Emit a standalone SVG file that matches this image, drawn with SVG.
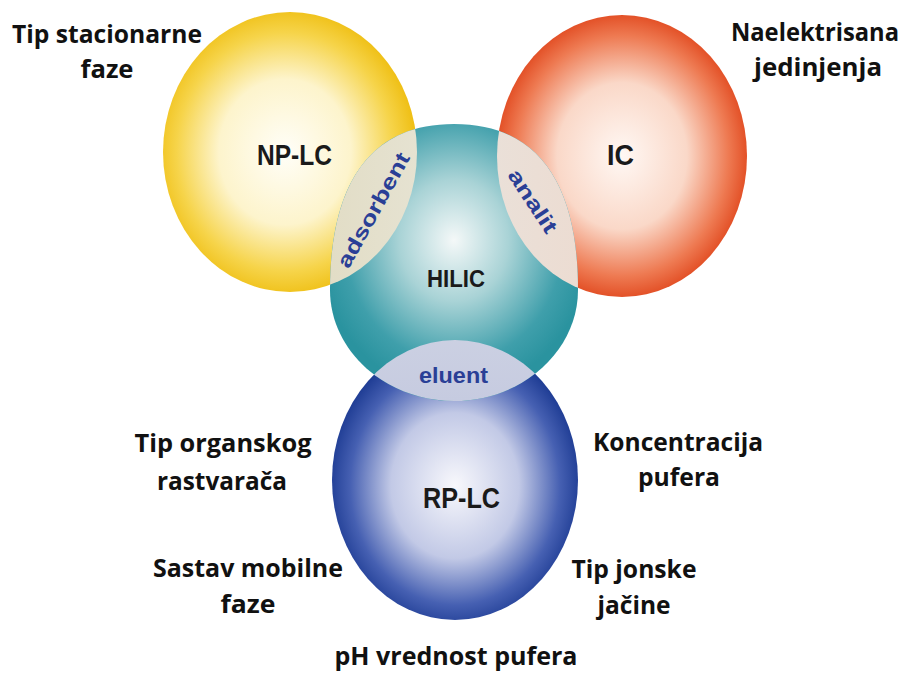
<svg xmlns="http://www.w3.org/2000/svg" width="906" height="682" viewBox="0 0 906 682">
<style>
.out{font-family:"Open Sans","Liberation Sans",sans-serif;font-weight:bold;font-size:25px;fill:#111;text-anchor:middle}
.main{font-family:"Liberation Sans",Arial,sans-serif;font-weight:bold;fill:#1a1a1a;text-anchor:middle}
.ov{font-family:"Liberation Sans",Arial,sans-serif;font-weight:bold;fill:#2a3f96;text-anchor:middle}
</style>
<defs>
<radialGradient id="gY" cx="0.48" cy="0.5" r="0.52">
<stop offset="0" stop-color="#fffef8"/><stop offset="0.5" stop-color="#fdf4cc"/><stop offset="0.82" stop-color="#f6d44a"/><stop offset="1" stop-color="#efbf14"/>
</radialGradient>
<radialGradient id="gR" cx="0.5" cy="0.5" r="0.52">
<stop offset="0" stop-color="#fff8f4"/><stop offset="0.5" stop-color="#fad8c8"/><stop offset="0.82" stop-color="#ee7a52"/><stop offset="1" stop-color="#e0461c"/>
</radialGradient>
<radialGradient id="gT" cx="0.5" cy="0.42" r="0.55">
<stop offset="0" stop-color="#f4f8f8"/><stop offset="0.4" stop-color="#a9d3d6"/><stop offset="0.8" stop-color="#3f9fab"/><stop offset="1" stop-color="#2a939f"/>
</radialGradient>
<radialGradient id="gB" cx="0.5" cy="0.52" r="0.52">
<stop offset="0" stop-color="#f8f8fc"/><stop offset="0.5" stop-color="#c2c9e6"/><stop offset="0.82" stop-color="#4660b2"/><stop offset="1" stop-color="#1c3a92"/>
</radialGradient>
<linearGradient id="lY" x1="0" y1="0" x2="1" y2="0">
<stop offset="0" stop-color="#e2ddc6"/><stop offset="1" stop-color="#ececE6"/>
</linearGradient>
<linearGradient id="lR" x1="0" y1="0" x2="1" y2="0">
<stop offset="0" stop-color="#e6e8e4"/><stop offset="1" stop-color="#ecdcd2"/>
</linearGradient>
<linearGradient id="lB" x1="0" y1="0" x2="0" y2="1">
<stop offset="0" stop-color="#dfe1ea"/><stop offset="1" stop-color="#c6cbe0"/>
</linearGradient>
<clipPath id="cY"><ellipse cx="290" cy="152" rx="127" ry="140"/></clipPath>
<clipPath id="cR"><ellipse cx="622" cy="156" rx="125" ry="141"/></clipPath>
<clipPath id="cB"><ellipse cx="455" cy="480" rx="123" ry="140"/></clipPath>
<path id="teal" d="M330,290 C330,195 362,124 454,124 C546,124 578,195 578,290 C578,351 522,401 454,401 C386,401 330,351 330,290 Z"/>
</defs>
<rect width="906" height="682" fill="#fff"/>
<g id="node-np-lc">
<ellipse cx="290" cy="152" rx="127" ry="140" fill="url(#gY)"/>
<text class="main" x="294.5" y="165" font-size="29" textLength="75" lengthAdjust="spacingAndGlyphs">NP-LC</text>
</g>
<g id="node-ic">
<ellipse cx="622" cy="156" rx="125" ry="141" fill="url(#gR)"/>
<text class="main" x="620.5" y="165" font-size="29" textLength="27" lengthAdjust="spacingAndGlyphs">IC</text>
</g>
<g id="node-rp-lc">
<ellipse cx="455" cy="480" rx="123" ry="140" fill="url(#gB)"/>
<text class="main" x="461.5" y="508" font-size="29" textLength="77" lengthAdjust="spacingAndGlyphs">RP-LC</text>
</g>
<g id="node-hilic">
<use href="#teal" fill="url(#gT)"/>
<text class="main" x="456" y="287" font-size="23" textLength="58" lengthAdjust="spacingAndGlyphs">HILIC</text>
</g>
<g id="overlaps">
<use href="#teal" clip-path="url(#cY)" fill="url(#lY)"/>
<use href="#teal" clip-path="url(#cR)" fill="url(#lR)"/>
<use href="#teal" clip-path="url(#cB)" fill="url(#lB)"/>
<text class="ov" x="373" y="210" font-size="21" dominant-baseline="central" textLength="128" lengthAdjust="spacingAndGlyphs" transform="rotate(-61 373 210)">adsorbent</text>
<text class="ov" x="533" y="201" font-size="21" dominant-baseline="central" textLength="72" lengthAdjust="spacingAndGlyphs" transform="rotate(56.5 533 201)">analit</text>
<text class="ov" x="453.5" y="383" font-size="22" textLength="69" lengthAdjust="spacingAndGlyphs">eluent</text>
</g>
<g id="labels">
<text class="out" x="107" y="43" textLength="190" lengthAdjust="spacingAndGlyphs">Tip stacionarne</text>
<text class="out" x="107" y="78" textLength="53" lengthAdjust="spacingAndGlyphs">faze</text>
<text class="out" x="815" y="41" textLength="168" lengthAdjust="spacingAndGlyphs">Naelektrisana</text>
<text class="out" x="818" y="76" textLength="128" lengthAdjust="spacingAndGlyphs">jedinjenja</text>
<text class="out" x="223" y="452" textLength="177" lengthAdjust="spacingAndGlyphs">Tip organskog</text>
<text class="out" x="222" y="490" textLength="130" lengthAdjust="spacingAndGlyphs">rastvarača</text>
<text class="out" x="248" y="577" textLength="190" lengthAdjust="spacingAndGlyphs">Sastav mobilne</text>
<text class="out" x="248" y="613" textLength="55" lengthAdjust="spacingAndGlyphs">faze</text>
<text class="out" x="678" y="451" textLength="170" lengthAdjust="spacingAndGlyphs">Koncentracija</text>
<text class="out" x="679" y="486" textLength="82" lengthAdjust="spacingAndGlyphs">pufera</text>
<text class="out" x="634" y="578" textLength="125" lengthAdjust="spacingAndGlyphs">Tip jonske</text>
<text class="out" x="634" y="614" textLength="73" lengthAdjust="spacingAndGlyphs">jačine</text>
<text class="out" x="456" y="665" textLength="243" lengthAdjust="spacingAndGlyphs">pH vrednost pufera</text>
</g>
</svg>
